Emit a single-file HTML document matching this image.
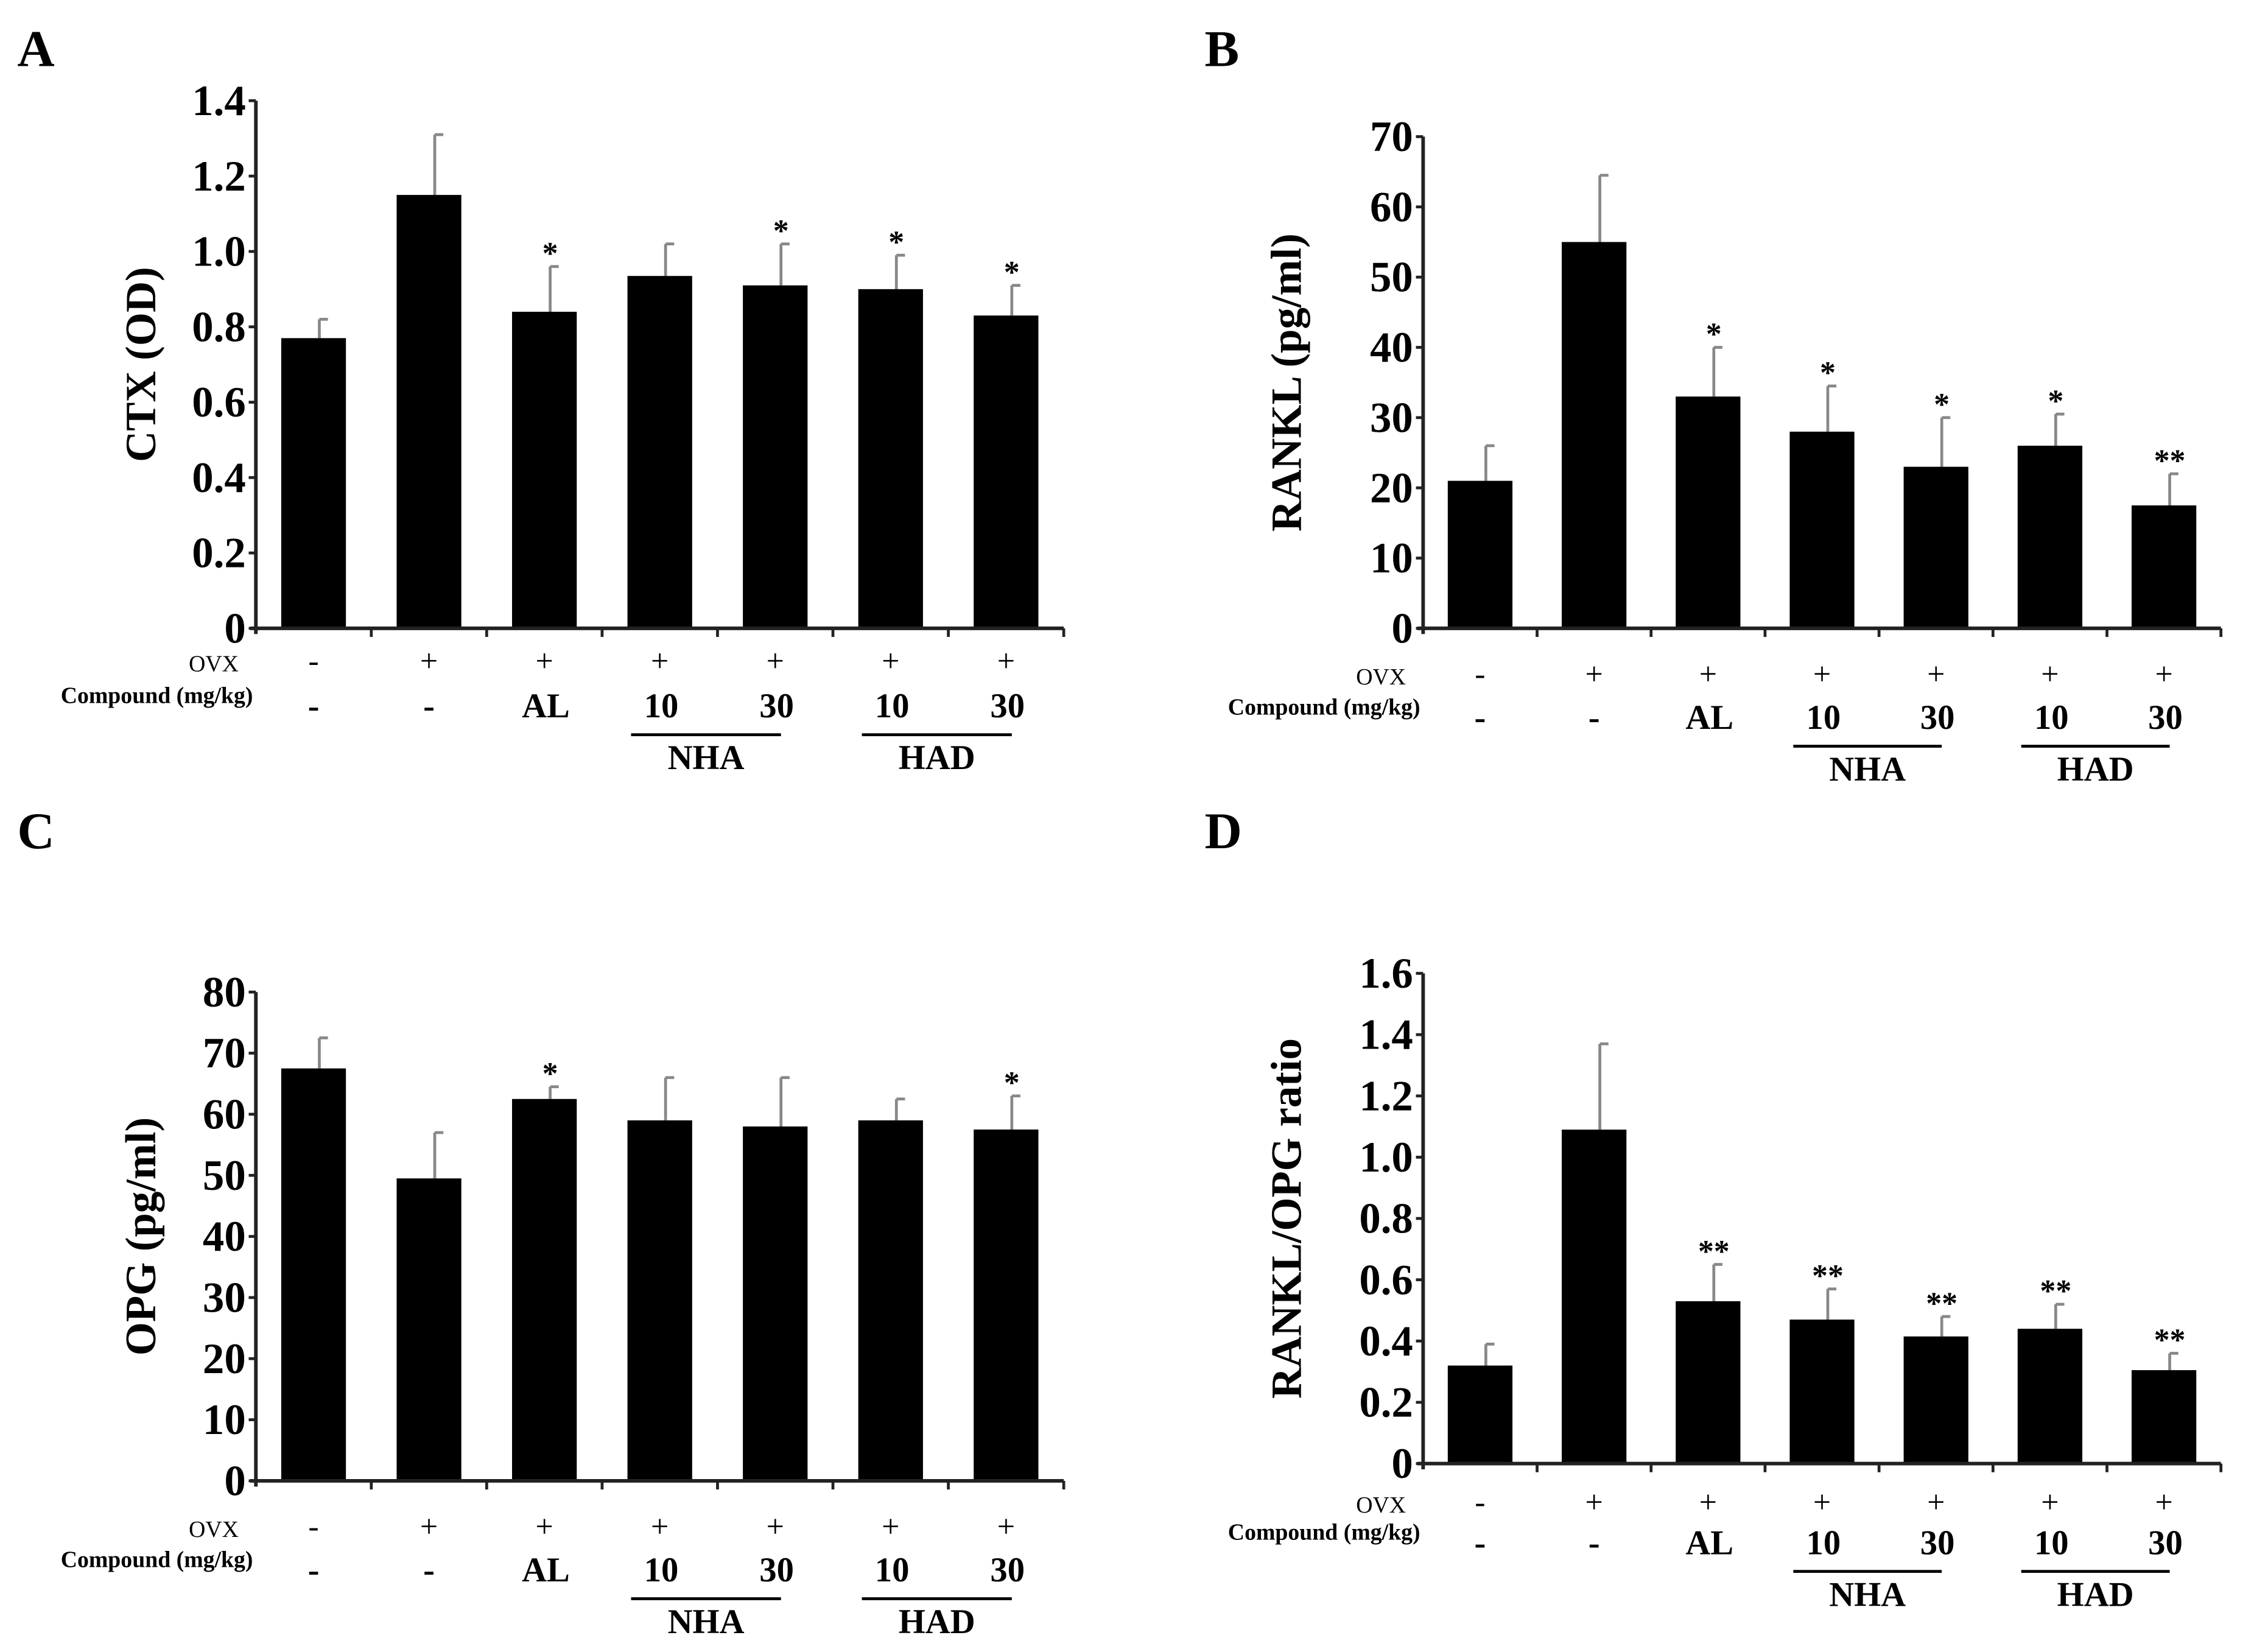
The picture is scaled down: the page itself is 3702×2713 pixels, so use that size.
<!DOCTYPE html>
<html><head><meta charset="utf-8"><style>
html,body{margin:0;padding:0;background:#fff;}
svg{display:block;font-family:"Liberation Serif",serif;}
</style></head><body>
<svg id="fig" width="3702" height="2713" viewBox="0 0 1568 1149" xmlns="http://www.w3.org/2000/svg"></svg>
<script>
const groups=["ctrl","ovx","al","nha10","nha30","had10","had30"];
const ovxLabels=["-","+","+","+","+","+","+"];
const compLabels=["-","-","AL","10","30","10","30"];
const ctxValues=[0.77,1.15,0.84,0.935,0.91,0.90,0.83];
const ctxErrTop=[0.82,1.31,0.96,1.02,1.02,0.99,0.91];
const ctxStars=["","","*","","*","*","*"];
const ctxTicks=[0,0.2,0.4,0.6,0.8,1.0,1.2,1.4];
const ctxTickLabels=["0","0.2","0.4","0.6","0.8","1.0","1.2","1.4"];
const rankValues=[21,55,33,28,23,26,17.5];
const rankErrTop=[26,64.5,40,34.5,30,30.5,22];
const rankStars=["","","*","*","*","*","**"];
const rankTicks=[0,10,20,30,40,50,60,70];
const rankTickLabels=["0","10","20","30","40","50","60","70"];
const opgValues=[67.5,49.5,62.5,59,58,59,57.5];
const opgErrTop=[72.5,57,64.5,66,66,62.5,63];
const opgStars=["","","*","","","","*"];
const opgTicks=[0,10,20,30,40,50,60,70,80];
const opgTickLabels=["0","10","20","30","40","50","60","70","80"];
const ratioValues=[0.32,1.09,0.53,0.47,0.415,0.44,0.305];
const ratioErrTop=[0.39,1.37,0.65,0.57,0.48,0.52,0.36];
const ratioStars=["","","**","**","**","**","**"];
const ratioTicks=[0,0.2,0.4,0.6,0.8,1.0,1.2,1.4,1.6];
const ratioTickLabels=["0","0.2","0.4","0.6","0.8","1.0","1.2","1.4","1.6"];

const NS="http://www.w3.org/2000/svg";
const svg=document.getElementById('fig');
function mk(tag,attrs,parent){const e=document.createElementNS(NS,tag);for(const k in attrs)e.setAttribute(k,attrs[k]);(parent||svg).appendChild(e);return e;}
function txt(s,x,y,size,anchor,parent,weight){const t=mk('text',{x:x,y:y,'font-size':size,'text-anchor':anchor||'middle','font-weight':weight||'bold',fill:'#000'},parent);t.textContent=s;return t;}

function panel(cfg){
  const g=mk('g',{});
  
  
  const L=txt(cfg.letter,cfg.lx,cfg.ly,36,'start',g);
  
  
  const y=v=>cfg.y0-(v-cfg.ticks[0])/(cfg.ticks[cfg.ticks.length-1]-cfg.ticks[0])*(cfg.y0-cfg.ytop);
  const step=(cfg.xend-cfg.x0)/7;
  const xc=i=>cfg.x0+step*(i+0.5);
  const bw=45;
  cfg.values.forEach((v,i)=>{
    const ey=y(cfg.err[i]);
    const el=mk('line',{x1:xc(i)+4,x2:xc(i)+4,y1:y(v),y2:ey,stroke:'#888','stroke-width':2},g);
    
    
    const ec=mk('line',{x1:xc(i)+4,x2:xc(i)+10,y1:ey,y2:ey,stroke:'#888','stroke-width':2},g);
    
    
    const r=mk('rect',{x:xc(i)-bw/2,y:y(v),width:bw,height:cfg.y0-y(v),fill:'#000'},g);
    
    
    if(cfg.stars[i]){const s=txt(cfg.stars[i],xc(i)+4,ey-2,22,'middle',g);
      
      }
  });
  const ya=mk('line',{x1:cfg.x0,x2:cfg.x0,y1:cfg.ytop,y2:cfg.y0+4,stroke:'#222','stroke-width':2.5},g);
  
  
  const xa=mk('line',{x1:cfg.x0-4,x2:cfg.xend,y1:cfg.y0,y2:cfg.y0,stroke:'#222','stroke-width':2.5},g);
  
  
  for(let i=1;i<=7;i++){const t=mk('line',{x1:cfg.x0+step*i,x2:cfg.x0+step*i,y1:cfg.y0,y2:cfg.y0+6,stroke:'#222','stroke-width':2},g);
    
    }
  cfg.ticks.forEach((tv,i)=>{
    const t=mk('line',{x1:cfg.x0-5,x2:cfg.x0,y1:y(tv),y2:y(tv),stroke:'#222','stroke-width':2},g);
    
    
    const l=txt(cfg.tickLabels[i],cfg.x0-7,y(tv)+10,30,'end',g);
    
    
  });
  const yt=txt(cfg.ytitle,0,0,30,'middle',g);
  yt.setAttribute('transform','translate('+cfg.tx+','+((cfg.y0+cfg.ytop)/2)+') rotate(-90)');
  
  
  const r1=cfg.y0+cfg.row1, r2=cfg.y0+cfg.row2;
  const o=txt('OVX',cfg.x0-12,r1+6,16,'end',g,'normal');
  
  
  const c=txt('Compound (mg/kg)',cfg.x0-2,r2,16,'end',g,'bold');
  
  
  groups.forEach((gr,i)=>{
    const a=txt(ovxLabels[i],xc(i),r1+6,22,'middle',g,'normal');
    
    
    const b=txt(compLabels[i],xc(i)+(i>=2?1:0),r2+10,24,'middle',g,'bold');
    
    
  });
  [["NHA",3],["HAD",5]].forEach(([nm,i])=>{
    const x1=xc(i)-20,x2=xc(i+1)+4;
    const ln=mk('line',{x1:x1,x2:x2,y1:r2+22,y2:r2+22,stroke:'#000','stroke-width':2},g);
    
    
    const t=txt(nm,(x1+x2)/2,r2+46,24,'middle',g);
    
    
  });
}
panel({name:'panel-a-ctx',letter:'A',lx:12,ly:46,x0:178,xend:740,y0:437,ytop:70,ticks:ctxTicks,tickLabels:ctxTickLabels,values:ctxValues,err:ctxErrTop,stars:ctxStars,ytitle:'CTX (OD)',tx:108,row1:24,row2:52});
panel({name:'panel-b-rankl',letter:'B',lx:838,ly:46,x0:990,xend:1545,y0:437,ytop:95,ticks:rankTicks,tickLabels:rankTickLabels,values:rankValues,err:rankErrTop,stars:rankStars,ytitle:'RANKL (pg/ml)',tx:905,row1:33,row2:60});
panel({name:'panel-c-opg',letter:'C',lx:12,ly:590,x0:178,xend:740,y0:1030,ytop:690,ticks:opgTicks,tickLabels:opgTickLabels,values:opgValues,err:opgErrTop,stars:opgStars,ytitle:'OPG (pg/ml)',tx:108,row1:33,row2:60});
panel({name:'panel-d-ratio',letter:'D',lx:838,ly:590,x0:990,xend:1545,y0:1018,ytop:677,ticks:ratioTicks,tickLabels:ratioTickLabels,values:ratioValues,err:ratioErrTop,stars:ratioStars,ytitle:'RANKL/OPG ratio',tx:905,row1:28,row2:53});
</script>
</body></html>
